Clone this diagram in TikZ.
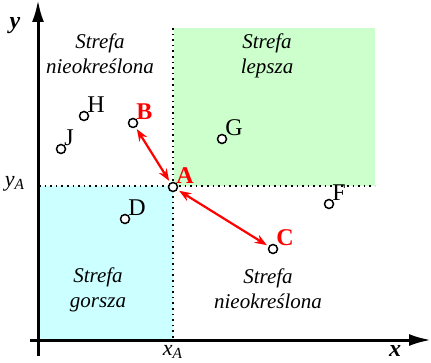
\documentclass[tikz,border=0pt]{standalone}
\usepackage{fontspec}
\setmainfont{Liberation Serif}
\usepackage{tikz}
\usetikzlibrary{arrows.meta}
\definecolor{Better}{HTML}{CCFFCC}
\definecolor{Worse}{HTML}{CCFFFF}
\definecolor{Mark}{HTML}{FF0000}

\begin{document}
\begin{tikzpicture}[x=0.5pt,y=-0.5pt,
  pt/.style={circle,draw,line width=0.75pt,fill=white,inner sep=0pt,minimum size=4.5pt},
  lbl/.style={font=\fontsize{12}{13}\selectfont,inner sep=0pt,label distance=-0.5pt},
  zone/.style={font=\fontsize{10.5}{12.5}\selectfont\itshape,align=center},
  pair/.style={Mark,line width=1.1pt,{Stealth[length=6pt,width=4.5pt]}-{Stealth[length=6pt,width=4.5pt]},shorten <=1pt,shorten >=1pt}]
  \useasboundingbox (0,0) rectangle (431,362);
  % zones
  \fill[Better] (174,28) rectangle (375,186);
  \fill[Worse] (39,186) rectangle (173,339);
  \draw[dotted,line width=0.8pt] (173,28) -- (173,339);
  \draw[dotted,line width=0.8pt] (39,186) -- (375,186);
  % axes
  \draw[line width=1.5pt,-{Latex[length=11pt,width=6pt]}] (30,340) -- (431,340);
  \draw[line width=1.5pt,-{Latex[length=11pt,width=6pt]}] (38,356) -- (38,0);
  \node[font=\fontsize{12}{12}\selectfont\bfseries\itshape] (xlab) at (395,351) {x};
  \node[font=\fontsize{12}{12}\selectfont\bfseries\itshape] (ylab) at (15,26) {y};
  \node[font=\fontsize{11}{12}\selectfont\itshape] (xa) at (173,352) {x\textsubscript{A}};
  \node[font=\fontsize{11}{12}\selectfont\itshape] (ya) at (15,184) {y\textsubscript{A}};
  % zone names
  \node[zone] (z1) at (100,54) {Strefa\\nieokreślona};
  \node[zone] (z2) at (267,56) {Strefa\\lepsza};
  \node[zone] (z3) at (98,290) {Strefa\\gorsza};
  \node[zone] (z4) at (268,289) {Strefa\\nieokreślona};
  % points
  \node[pt,label={[lbl]above right:H}] (h) at (84,116) {};
  \node[pt,label={[lbl]above right:J}] (j) at (61,149) {};
  \node[pt,label={[lbl,Mark,font=\fontsize{12}{13}\selectfont\bfseries]above right:B}] (b) at (133,123) {};
  \node[pt,label={[lbl]above right:G}] (g) at (222,139) {};
  \node[pt,label={[lbl,Mark,font=\fontsize{12}{13}\selectfont\bfseries]above right:A}] (a) at (173,187) {};
  \node[pt,label={[lbl]above right:D}] (d) at (125,219) {};
  \node[pt,label={[lbl]above right:F}] (f) at (329,204) {};
  \node[pt,label={[lbl,Mark,font=\fontsize{12}{13}\selectfont\bfseries]above right:C}] (c) at (273,249) {};
  % comparisons
  \draw[pair] (b) -- (a);
  \draw[pair] (a) -- (c);
\end{tikzpicture}
\end{document}
